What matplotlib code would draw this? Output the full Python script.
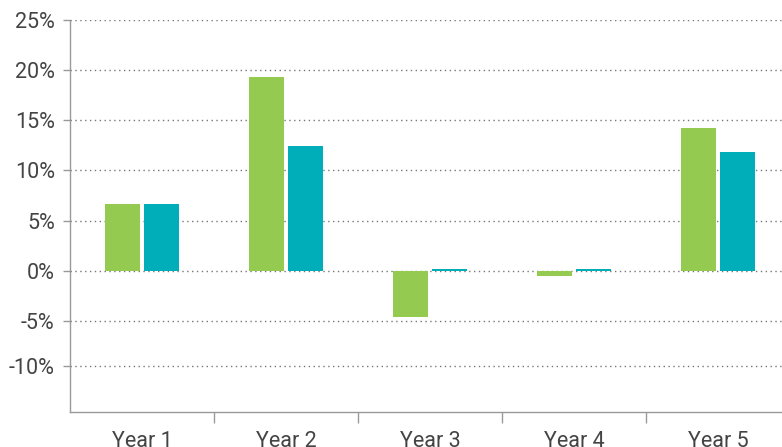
import matplotlib.pyplot as plt
import numpy as np
from matplotlib.ticker import FixedLocator

plt.rcParams['font.family'] = ['Roboto', 'DejaVu Sans']

years = ['Year 1', 'Year 2', 'Year 3', 'Year 4', 'Year 5']
series_a = [6.6, 19.3, -4.6, -0.55, 14.2]
series_b = [6.6, 12.45, 0.2, 0.2, 11.85]

# the source chart places its last gridline a bit high (at about -9.5)
ytick_pos = [-9.5, -5, 0, 5, 10, 15, 20, 25]
ytick_lab = ['-10%', '-5%', '0%', '5%', '10%', '15%', '20%', '25%']

green = '#95CA50'
teal = '#00AEB9'

fig = plt.figure(figsize=(7.82, 4.47), dpi=100)
# axes runs past the right edge like the original
ax = fig.add_axes([70 / 782, (447 - 412) / 447, 720 / 782, 392 / 447])

x = np.arange(len(years))
w = 0.243
ax.bar(x - 0.132, series_a, w, color=green, zorder=3)
ax.bar(x + 0.132, series_b, w, color=teal, zorder=3)

ax.set_xlim(-0.5, 4.5)
ax.set_ylim(-14.1, 25)
ax.set_yticks(ytick_pos)
ax.set_yticklabels(ytick_lab)
ax.yaxis.grid(True, linestyle=(0, (1, 2.5)), color='#777777', linewidth=1, zorder=0)

ax.set_xticks(x)
ax.set_xticklabels(years)
ax.xaxis.set_minor_locator(FixedLocator(np.arange(0.5, 5, 1)))
ax.tick_params(axis='x', which='major', length=0, pad=14)
ax.tick_params(axis='x', which='minor', length=8, color='#999999', width=1)
ax.tick_params(axis='y', length=5, color='#999999', width=1, pad=6)
ax.tick_params(labelsize=15.5, labelcolor='#444444')

for s in ['top', 'right']:
    ax.spines[s].set_visible(False)
for s in ['left', 'bottom']:
    ax.spines[s].set_color('#999999')
    ax.spines[s].set_linewidth(1)

fig.savefig('out.png', dpi=100)
